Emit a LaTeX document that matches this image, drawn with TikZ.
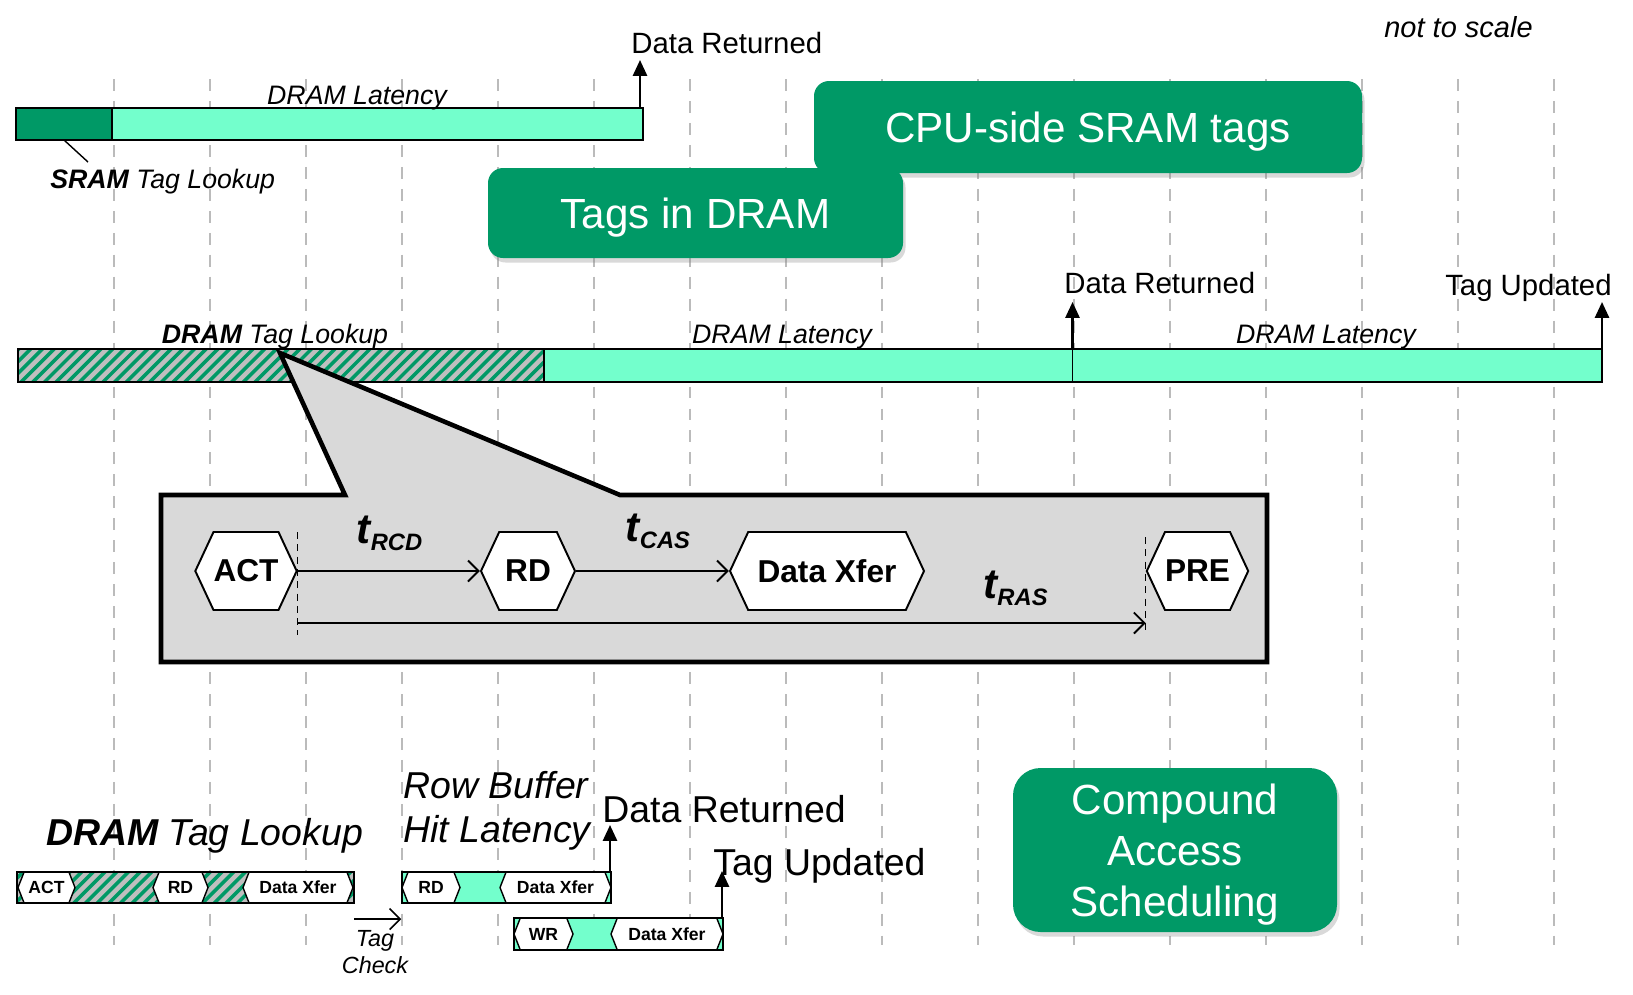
\documentclass[tikz,border=0pt]{standalone}
\usepackage{fontspec}
\setmainfont{Liberation Sans}
\usetikzlibrary{arrows.meta,shapes.symbols,shadows}

\definecolor{boxgreen}{HTML}{009966}
\definecolor{aqua}{HTML}{73FFCC}
\definecolor{hatchgrey}{HTML}{BFBFBF}
\definecolor{calloutgrey}{HTML}{D9D9D9}
\definecolor{gridgrey}{HTML}{BBBBBB}

\tikzset{
  grid line/.style={gridgrey,line width=0.8pt,dash pattern=on 6.8pt off 5.7pt},
  bar/.style={draw=black,line width=1pt},
  hatch/.style={boxgreen,line width=2pt},
  tagbox/.style={fill=boxgreen,text=white,inner sep=0pt,rounded corners=0.3cm,text depth=0pt,
    font=\fontsize{24}{29}\selectfont,
    drop shadow={shadow xshift=0.05cm,shadow yshift=-0.09cm,opacity=0.3}},
  cmd/.style={signal,signal to=east and west,draw=black,fill=white,line width=1.1pt,
    inner sep=0pt,minimum height=1.56cm,signal pointer angle=130,
    font=\bfseries\fontsize{18}{21}\selectfont},
  smallcmd/.style={cmd,line width=0.8pt,minimum height=0.62cm,signal pointer angle=137,
    font=\bfseries\fontsize{10}{12}\selectfont},
  uparrow/.style={line width=1.3pt,-{Triangle[length=9pt,width=8pt]}},
  timearrow/.style={line width=1.1pt,-{Straight Barb[length=6pt,width=12pt]}},
  marker/.style={line width=0.8pt,dash pattern=on 4pt off 3pt},
  lbl/.style={inner sep=0pt,font=\fontsize{16.7}{20}\selectfont},
  lat/.style={inner sep=0pt,font=\itshape\fontsize{15.2}{18}\selectfont},
  biglbl/.style={inner sep=0pt,font=\fontsize{21.3}{26}\selectfont},
  bigit/.style={biglbl,font=\itshape\fontsize{21.3}{26}\selectfont},
}
\newcommand{\tdel}[1]{{\fontsize{24}{24}\selectfont\bfseries\itshape t}\raisebox{-4.5pt}{\fontsize{13.5}{14}\selectfont\bfseries\itshape #1}}

\begin{document}
\begin{tikzpicture}
\useasboundingbox (0,0) rectangle (32.66,-19.88);
% time grid
\foreach \k in {0,...,15}
  \draw[grid line] ({2.28+1.92*\k},-1.58) -- ({2.28+1.92*\k},-18.9);

\node[inner sep=0pt,anchor=base west,font=\itshape\fontsize{16.5}{19}\selectfont] (scale) at (27.68,-0.74) {not to scale};

% CPU-side SRAM tags
\draw[bar,fill=boxgreen] (0.32,-2.16) rectangle (2.24,-2.8);
\draw[bar,fill=aqua] (2.24,-2.16) rectangle (12.86,-2.8);
\node[lat,anchor=base] (lat1) at (7.14,-2.08) {DRAM Latency};
\node[lbl,anchor=base west] (dr1) at (12.62,-1.06) {Data Returned};
\coordinate (dr1foot) at (12.8,-2.16);
\coordinate (dr1tip) at (12.8,-1.2);
\draw[uparrow] (dr1foot) -- (dr1tip);
\node[lat,anchor=base west] (sram) at (1.0,-3.76) {\textbf{SRAM} Tag Lookup};
\coordinate (sramfoot) at (1.28,-2.8);
\coordinate (sramend) at (1.76,-3.24);
\draw[line width=0.8pt] (sramfoot) -- (sramend);

\node[tagbox,minimum width=10.96cm,minimum height=1.84cm] (cpu) at (21.76,-2.54) {CPU-side SRAM tags};
\node[tagbox,minimum width=8.3cm,minimum height=1.8cm] (indram) at (13.91,-4.26) {Tags in DRAM};

% tags in DRAM
\begin{scope}
  \clip (0.36,-6.98) rectangle (10.88,-7.64);
  \fill[hatchgrey] (0.36,-6.98) rectangle (10.88,-7.64);
  \foreach \i in {0,...,48}
    \draw[hatch] ({-0.34+0.234*\i},-7.7) -- ++(0.8,0.8);
\end{scope}
\draw[bar,line width=0.8pt] (0.36,-6.98) rectangle (10.88,-7.64);
\draw[bar,line width=0.8pt,fill=aqua] (10.88,-6.98) rectangle (21.45,-7.64);
\draw[bar,line width=0.8pt,fill=aqua] (21.45,-6.98) rectangle (32.04,-7.64);
\node[lat,anchor=base] (dtl) at (5.5,-6.86) {\textbf{DRAM} Tag Lookup};
\node[lat,anchor=base] (lat2) at (15.64,-6.86) {DRAM Latency};
\node[lat,anchor=base] (lat3) at (26.52,-6.86) {DRAM Latency};
\node[lbl,anchor=base west] (dr2) at (21.28,-5.86) {Data Returned};
\node[lbl,anchor=base east] (tu2) at (32.24,-5.9) {Tag Updated};
\coordinate (dr2foot) at (21.45,-6.98);
\coordinate (dr2tip) at (21.45,-6.04);
\coordinate (tu2foot) at (32.04,-6.98);
\coordinate (tu2tip) at (32.04,-6.04);
\draw[uparrow] (dr2foot) -- (dr2tip);
\draw[uparrow] (tu2foot) -- (tu2tip);

% zoom into the tag lookup
\draw[fill=calloutgrey,line width=2.6pt] (3.22,-9.9) -- (6.9,-9.9) -- (5.6,-7.06) -- (12.4,-9.9)
  -- (25.34,-9.9) -- (25.34,-13.24) -- (3.22,-13.24) -- cycle;
\node[cmd,minimum width=1.88cm] (act) at (4.92,-11.42) {ACT};
\node[cmd,minimum width=1.88cm] (rd) at (10.56,-11.42) {RD};
\node[cmd,minimum width=3.88cm] (xfer) at (16.54,-11.42) {Data Xfer};
\node[cmd,minimum width=1.94cm] (pre) at (23.95,-11.42) {PRE};
\draw[marker] ([yshift=0.78cm]act.east) -- ([yshift=-1.28cm]act.east);
\draw[marker] ([yshift=0.68cm]pre.west) -- ([yshift=-1.28cm]pre.west);
\draw[timearrow] (act.east) -- (rd.west);
\draw[timearrow] (rd.east) -- (xfer.west);
\draw[timearrow] ([yshift=-1.04cm]act.east) -- ([yshift=-1.04cm]pre.west);
\node[inner sep=0pt,anchor=base] (trcd) at (7.79,-10.86) {\tdel{RCD}};
\node[inner sep=0pt,anchor=base] (tcas) at (13.16,-10.82) {\tdel{CAS}};
\node[inner sep=0pt,anchor=base] (tras) at (20.31,-11.96) {\tdel{RAS}};

% compound access scheduling
\begin{scope}
  \clip (0.34,-17.44) rectangle (7.08,-18.06);
  \fill[hatchgrey] (0.34,-17.44) rectangle (7.08,-18.06);
  \foreach \i in {0,...,31}
    \draw[hatch] ({-0.2+0.234*\i},-18.1) -- ++(0.7,0.7);
\end{scope}
\node[smallcmd,minimum width=1.14cm] (act2) at (0.93,-17.75) {ACT};
\node[smallcmd,minimum width=1.1cm] (rd2) at (3.61,-17.75) {RD};
\node[smallcmd,minimum width=2.2cm] (xfer2) at (5.96,-17.75) {Data Xfer};
\draw[bar,line width=0.9pt] (0.34,-17.44) rectangle (7.08,-18.06);

\fill[aqua] (8.04,-17.44) rectangle (12.22,-18.06);
\node[smallcmd,minimum width=1.16cm] (rd3) at (8.62,-17.75) {RD};
\node[smallcmd,minimum width=2.22cm] (xfer3) at (11.11,-17.75) {Data Xfer};
\draw[bar,line width=0.9pt] (8.04,-17.44) rectangle (12.22,-18.06);

\fill[aqua] (10.28,-18.36) rectangle (14.46,-19.0);
\node[smallcmd,minimum width=1.18cm,minimum height=0.64cm] (wr4) at (10.87,-18.68) {WR};
\node[smallcmd,minimum width=2.24cm,minimum height=0.64cm] (xfer4) at (13.34,-18.68) {Data Xfer};
\draw[bar,line width=0.9pt] (10.28,-18.36) rectangle (14.46,-19.0);

\node[bigit,anchor=base] (dtl2) at (4.09,-16.9) {\textbf{DRAM} Tag Lookup};
\node[bigit,anchor=base west] (rb1) at (8.06,-15.96) {Row Buffer};
\node[bigit,anchor=base west] (rb2) at (8.06,-16.84) {Hit Latency};
\node[biglbl,anchor=base west] (dr3) at (12.04,-16.44) {Data Returned};
\node[biglbl,anchor=base west] (tu3) at (14.26,-17.5) {Tag Updated};
\coordinate (dr3foot) at (12.2,-17.44);
\coordinate (dr3tip) at (12.2,-16.5);
\coordinate (tu3foot) at (14.44,-18.36);
\coordinate (tu3tip) at (14.44,-17.42);
\draw[uparrow] (dr3foot) -- (dr3tip);
\draw[uparrow] (tu3foot) -- (tu3tip);

\node[inner sep=0pt,anchor=north,align=center,font=\itshape\fontsize{13.3}{15.3}\selectfont] (tchk) at (7.5,-18.6) {Tag\\Check};
\coordinate (tchkstart) at (7.08,-18.38);
\draw[timearrow,line width=0.9pt] (tchkstart) -- (rd3.west |- tchkstart);

\node[tagbox,minimum width=6.48cm,minimum height=3.28cm,rounded corners=0.55cm,align=center] (cas) at (23.5,-17.0) {Compound\\Access\\Scheduling};
\end{tikzpicture}
\end{document}
